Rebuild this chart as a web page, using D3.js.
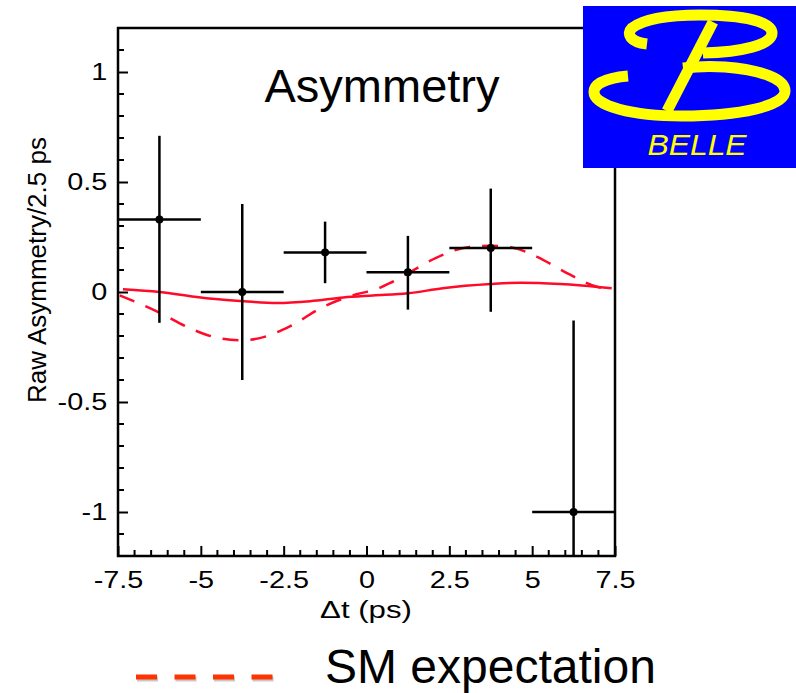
<!DOCTYPE html>
<html>
<head>
<meta charset="utf-8">
<script src="https://cdn.jsdelivr.net/npm/d3@7"></script>
<style>
  body { margin: 0; background: #fff; }
  text { font-family: "Liberation Sans", Arial, Helvetica, sans-serif; }
</style>
</head>
<body>
<svg id="chart" width="796" height="693"></svg>
<script>
// binned raw asymmetry points (bin width 2.5 ps)
const binCenters = [-6.25, -3.75, -1.25, 1.25, 3.75, 6.25];
const asymValues = [0.33, 0.0, 0.18, 0.09, 0.20, -1.0];
const errUp = [0.38, 0.40, 0.14, 0.165, 0.27, 0.87];
const errDown = [0.47, 0.40, 0.14, 0.17, 0.29, 0.5];
const binHalf = 1.25;

// SM expectation (dashed)
const smT = [-7.45, -6.3, -5.25, -4.45, -3.75, -3.0, -2.3, -1.3, -0.3, 0.25, 0.7, 1.25, 2.1, 3.1, 3.75, 4.45, 5.15, 6.05, 6.95, 7.4];
const smV = [-0.015, -0.09, -0.17, -0.21, -0.22, -0.20, -0.155, -0.067, -0.01, 0.01, 0.04, 0.085, 0.155, 0.205, 0.21, 0.20, 0.16, 0.086, 0.024, 0.01];

// fit result (solid)
const fitT = [-7.35, -6.25, -4.75, -3.7, -2.7, -1.7, -0.7, 0.2, 1.25, 2.3, 3.75, 4.65, 5.85, 7.4];
const fitV = [0.012, 0.0, -0.03, -0.042, -0.05, -0.042, -0.025, -0.016, -0.006, 0.017, 0.036, 0.042, 0.036, 0.017];

const xTicks = [-7.5, -5, -2.5, 0, 2.5, 5, 7.5];
const yTicks = [-1, -0.5, 0, 0.5, 1];

const svg = d3.select('#chart');
const x = d3.scaleLinear().domain([-7.5, 7.5]).range([118, 615]);
const y = d3.scaleLinear().domain([-1.2, 1.2]).range([556, 28]);
const red = '#ff0a28';

// clip
const defs = svg.append('defs');
defs.append('clipPath').attr('id', 'plot')
  .append('rect').attr('x', 118).attr('y', 28).attr('width', 497).attr('height', 528);

// minor ticks
const minorY = d3.range(-1.1, 1.15, 0.1).map(v => +v.toFixed(1)).filter(v => !yTicks.includes(v));
svg.append('g').selectAll('line').data(minorY).join('line')
  .attr('x1', 118).attr('x2', 124).attr('y1', d => y(d)).attr('y2', d => y(d))
  .attr('stroke', '#000').attr('stroke-width', 2);
const minorX = d3.range(-7, 7.5, 0.5).filter(v => !xTicks.includes(v));
svg.append('g').selectAll('line').data(minorX).join('line')
  .attr('x1', d => x(d)).attr('x2', d => x(d)).attr('y1', 556).attr('y2', 550)
  .attr('stroke', '#000').attr('stroke-width', 2);

// axes
const fmt = d => String(d);
const xAxis = svg.append('g').attr('transform', 'translate(0,556)')
  .call(d3.axisBottom(x).tickValues(xTicks).tickFormat(fmt).tickSizeInner(-10).tickSizeOuter(0).tickPadding(15));
const yAxis = svg.append('g').attr('transform', 'translate(118,0)')
  .call(d3.axisLeft(y).tickValues(yTicks).tickFormat(fmt).tickSizeInner(-10).tickSizeOuter(0).tickPadding(9));
[xAxis, yAxis].forEach(a => {
  a.select('.domain').remove();
  a.selectAll('line').attr('stroke', '#000').attr('stroke-width', 2);
  a.selectAll('text').attr('fill', '#000').style('font-size', '24px')
    .style('font-family', '"Liberation Sans", Arial, sans-serif');
});
xAxis.selectAll('text').attr('transform', 'scale(1.2,1)').attr('dy', '0.71em');
yAxis.selectAll('text').attr('transform', 'scale(1.2,1)').attr('x', -9);

// frame
svg.append('rect').attr('x', 118).attr('y', 28).attr('width', 497).attr('height', 528)
  .attr('fill', 'none').attr('stroke', '#000').attr('stroke-width', 2.5);

const plot = svg.append('g').attr('clip-path', 'url(#plot)');
const line = d3.line().x(d => x(d[0])).y(d => y(d[1])).curve(d3.curveMonotoneX);

plot.append('path').datum(d3.zip(fitT, fitV)).attr('d', line)
  .attr('fill', 'none').attr('stroke', red).attr('stroke-width', 2.5);
plot.append('path').datum(d3.zip(smT, smV)).attr('d', line)
  .attr('fill', 'none').attr('stroke', red).attr('stroke-width', 2.5)
  .attr('stroke-dasharray', '16 12');

const pts = binCenters.map((t, i) => ({ t, v: asymValues[i], up: errUp[i], dn: errDown[i] }));
const eb = plot.append('g').selectAll('g').data(pts).join('g');
eb.append('line').attr('x1', d => x(d.t - binHalf)).attr('x2', d => x(d.t + binHalf))
  .attr('y1', d => y(d.v)).attr('y2', d => y(d.v)).attr('stroke', '#000').attr('stroke-width', 2.5);
eb.append('line').attr('x1', d => x(d.t)).attr('x2', d => x(d.t))
  .attr('y1', d => y(d.v + d.up)).attr('y2', d => y(d.v - d.dn)).attr('stroke', '#000').attr('stroke-width', 2.5);
eb.append('circle').attr('cx', d => x(d.t)).attr('cy', d => y(d.v)).attr('r', 4).attr('fill', '#000');

// titles
svg.append('text').attr('x', 382).attr('y', 102).attr('text-anchor', 'middle')
  .style('font-size', '47px').text('Asymmetry');
svg.append('text').attr('transform', 'translate(366,618) scale(1.3,1)').attr('text-anchor', 'middle')
  .style('font-size', '24px').text('\u0394t (ps)');
svg.append('text').attr('transform', 'translate(46,270) rotate(-90)').attr('text-anchor', 'middle')
  .style('font-size', '26px').text('Raw Asymmetry/2.5 ps');

// legend (soft shadow drawn under the dashes)
svg.append('line').attr('x1', 137).attr('x2', 275).attr('y1', 679).attr('y2', 679)
  .attr('stroke', '#bbb').attr('stroke-width', 5).attr('stroke-dasharray', '21 17.5').attr('opacity', 0.8);
svg.append('line').attr('x1', 136).attr('x2', 274).attr('y1', 677).attr('y2', 677)
  .attr('stroke', '#ff3300').attr('stroke-width', 5).attr('stroke-dasharray', '21 17.5');
svg.append('text').attr('x', 325).attr('y', 683).style('font-size', '48px').text('SM expectation');

// Belle logo
const logo = svg.append('g');
logo.append('rect').attr('x', 583).attr('y', 6).attr('width', 213).attr('height', 162).attr('fill', '#0000ff');
const yellow = '#ffff00';
const logoPaths = [
  'M647,44 C630,42 626,34 632,28 C645,18 672,15 700,15 C745,15 772,22 772,33 C772,45 742,52 703,53',
  'M683,68 C700,66 712,66 725,67 C762,70 785,79 785,91 C785,106 740,116 682,116 C632,116 594,106 594,92 C594,84 606,78 628,76',
  'M713,22 L667,111'
];
logo.selectAll('path').data(logoPaths).join('path').attr('d', d => d)
  .attr('fill', 'none').attr('stroke', yellow).attr('stroke-width', 11).attr('stroke-linecap', 'butt');
logo.append('text').attr('transform', 'translate(697,155) scale(1.1,1)').attr('text-anchor', 'middle')
  .style('font-size', '29px').style('font-style', 'italic').attr('fill', yellow).text('BELLE');
</script>
</body>
</html>
